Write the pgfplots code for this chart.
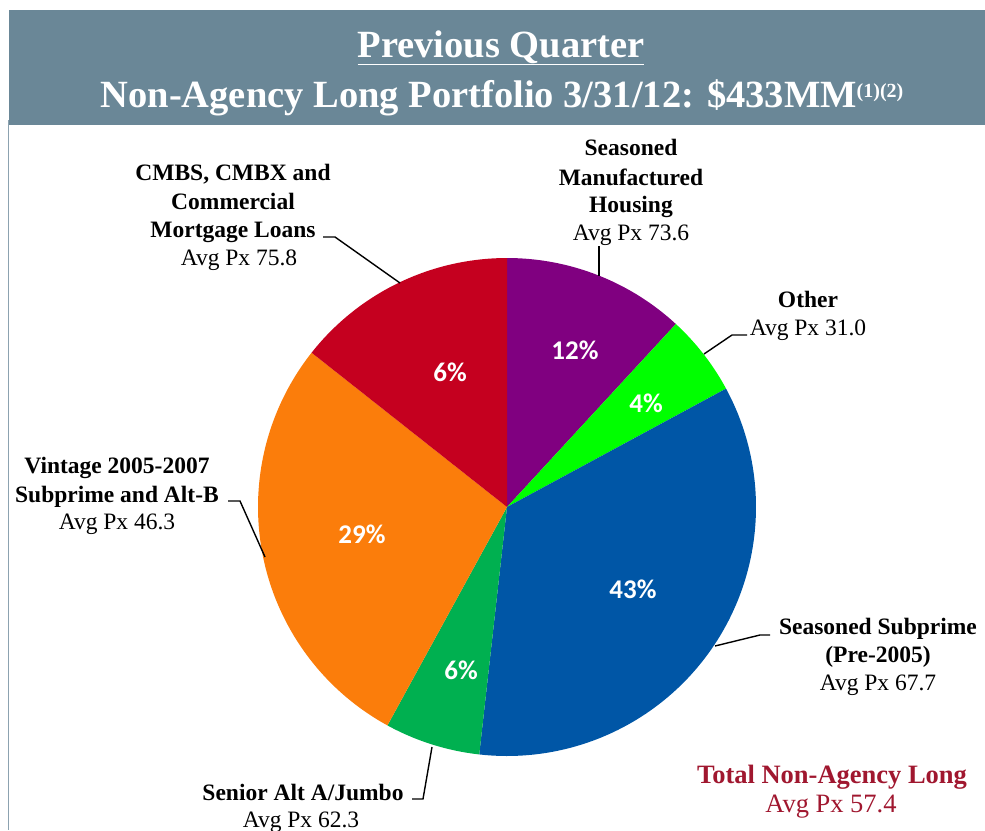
\documentclass[border=0pt]{standalone}
\usepackage{pgfplots}
\pgfplotsset{compat=1.18}
\usepackage{fontspec}
\setmainfont{Liberation Serif}
\newfontfamily\pctfont{Carlito}
\definecolor{hdr}{HTML}{6A8797}
\definecolor{bord}{HTML}{8CA2B0}
\definecolor{cpurple}{HTML}{800080}
\definecolor{cgreen}{HTML}{00FF00}
\definecolor{cblue}{HTML}{0056A6}
\definecolor{cdgreen}{HTML}{00B050}
\definecolor{corange}{HTML}{FB7D0B}
\definecolor{cred}{HTML}{C5001F}
\definecolor{tred}{HTML}{A0172F}
\newcommand{\lb}{\fontsize{23.5}{26}\selectfont\bfseries}
\newcommand{\lr}{\fontsize{23.5}{26}\selectfont}
\newcommand{\tb}{\fontsize{26.5}{28}\selectfont\bfseries}
\newcommand{\tr}{\fontsize{26.5}{28}\selectfont}
\newcommand{\pc}{\pctfont\fontsize{27}{30}\selectfont\bfseries\color{white}}
\begin{document}
\begin{tikzpicture}
\begin{axis}[width=985pt,height=830pt,scale only axis,
  xmin=0,xmax=985,ymin=0,ymax=830,y dir=reverse,hide axis,clip=false]
% header band and frame
\fill[hdr] (axis cs:9,10) rectangle (axis cs:985,125);
\draw[bord,line width=1.6pt] (axis cs:8.5,120) -- (axis cs:8.5,830);
\node[anchor=base,text=white,font=\fontsize{38.5}{40}\selectfont\bfseries] at (axis cs:501,57) {\underline{Previous Quarter}};
\node[anchor=base,text=white,font=\fontsize{38.5}{40}\selectfont\bfseries] at (axis cs:502,107)
  {Non-Agency Long Portfolio 3/31/12: \$433MM\raisebox{10pt}{\fontsize{20}{20}\selectfont (1)(2)}};
% pie slices (start angle, end angle in degrees)
\addplot[fill=cpurple,draw=none,domain=47.3:90,samples=50] ({507+249*cos(x)},{507-249*sin(x)}) -- (axis cs:507,507) -- cycle;
\addplot[fill=cgreen,draw=none,domain=28.4:47.3,samples=30] ({507+249*cos(x)},{507-249*sin(x)}) -- (axis cs:507,507) -- cycle;
\addplot[fill=cblue,draw=none,domain=-96.4:28.4,samples=100] ({507+249*cos(x)},{507-249*sin(x)}) -- (axis cs:507,507) -- cycle;
\addplot[fill=cdgreen,draw=none,domain=-118.7:-96.4,samples=30] ({507+249*cos(x)},{507-249*sin(x)}) -- (axis cs:507,507) -- cycle;
\addplot[fill=corange,draw=none,domain=-218.3:-118.7,samples=90] ({507+249*cos(x)},{507-249*sin(x)}) -- (axis cs:507,507) -- cycle;
\addplot[fill=cred,draw=none,domain=90:141.7,samples=50] ({507+249*cos(x)},{507-249*sin(x)}) -- (axis cs:507,507) -- cycle;
% percentage labels
\node[font=\pc] at (axis cs:450,372) {6\%};
\node[font=\pc] at (axis cs:575,350) {12\%};
\node[font=\pc] at (axis cs:646,403) {4\%};
\node[font=\pc] at (axis cs:633,589) {43\%};
\node[font=\pc] at (axis cs:362,534) {29\%};
\node[font=\pc] at (axis cs:461,670) {6\%};
% leader lines
\draw[line width=1.4pt] (axis cs:323,237) -- (axis cs:335,237) -- (axis cs:400,283);
\draw[line width=1.4pt] (axis cs:599,246) -- (axis cs:599,276);
\draw[line width=1.4pt] (axis cs:747,335) -- (axis cs:732,335) -- (axis cs:704,354);
\draw[line width=1.4pt] (axis cs:228,501) -- (axis cs:240,501) -- (axis cs:265,557);
\draw[line width=1.4pt] (axis cs:770,635) -- (axis cs:760,635) -- (axis cs:715,646);
\draw[line width=1.4pt] (axis cs:412,799) -- (axis cs:423,799) -- (axis cs:432,747);
% category labels
\node[anchor=base,font=\lb] at (axis cs:233,180) {CMBS, CMBX and};
\node[anchor=base,font=\lb] at (axis cs:233,209) {Commercial};
\node[anchor=base,font=\lb] at (axis cs:233,237) {Mortgage Loans};
\node[anchor=base,font=\lr] at (axis cs:239,265) {Avg Px 75.8};
\node[anchor=base,font=\lb] at (axis cs:631,155) {Seasoned};
\node[anchor=base,font=\lb] at (axis cs:631,185) {Manufactured};
\node[anchor=base,font=\lb] at (axis cs:631,212) {Housing};
\node[anchor=base,font=\lr] at (axis cs:631,240) {Avg Px 73.6};
\node[anchor=base,font=\lb] at (axis cs:808,307) {Other};
\node[anchor=base,font=\lr] at (axis cs:808,335) {Avg Px 31.0};
\node[anchor=base,font=\lb] at (axis cs:117,473) {Vintage 2005-2007};
\node[anchor=base,font=\lb] at (axis cs:117,502) {Subprime and Alt-B};
\node[anchor=base,font=\lr] at (axis cs:117,529) {Avg Px 46.3};
\node[anchor=base,font=\lb] at (axis cs:878,634) {Seasoned Subprime};
\node[anchor=base,font=\lb] at (axis cs:878,662) {(Pre-2005)};
\node[anchor=base,font=\lr] at (axis cs:878,690) {Avg Px 67.7};
\node[anchor=base,font=\lb] at (axis cs:303,800) {Senior Alt A/Jumbo};
\node[anchor=base,font=\lr] at (axis cs:301,827) {Avg Px 62.3};
\node[anchor=base,font=\tb,text=tred] at (axis cs:832,783) {Total Non-Agency Long};
\node[anchor=base,font=\tr,text=tred] at (axis cs:831,812) {Avg Px 57.4};
\end{axis}
\pgfresetboundingbox
\useasboundingbox (current axis.south west) rectangle (current axis.north east);
\end{tikzpicture}
\end{document}
